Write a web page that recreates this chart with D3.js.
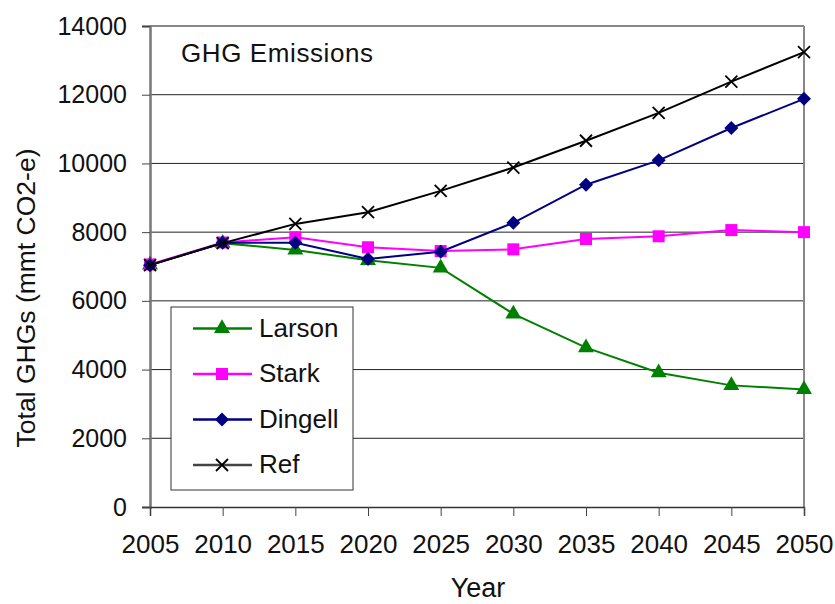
<!DOCTYPE html>
<html><head><meta charset="utf-8">
<script src="https://cdn.jsdelivr.net/npm/d3@7"></script>
<style>body{margin:0;background:#fff}svg{display:block}text{font-family:"Liberation Sans",Arial,sans-serif}</style>
</head><body><svg id="c" width="835" height="604"></svg>
<script>
const years = [2005,2010,2015,2020,2025,2030,2035,2040,2045,2050];
const larson  = [7050,7680,7480,7180,6960,5620,4640,3910,3540,3420];
const stark   = [7060,7700,7850,7560,7450,7500,7800,7880,8060,8000];
const dingell = [7040,7690,7690,7220,7430,8270,9380,10090,11030,11880];
const ref     = [7040,7680,8240,8580,9200,9880,10660,11470,12380,13240];
const yTicks = [0,2000,4000,6000,8000,10000,12000,14000];
const seriesNames = ["Larson","Stark","Dingell","Ref"];
const seriesColors = ["#008000","#FF00FF","#000080","#000000"];
const seriesShapes = ["triangle","square","diamond","x"];
const seriesValues = [larson,stark,dingell,ref];

const svg = d3.select("#c");
const L=150, R=804, T=26, B=507;
const x = d3.scaleLinear().domain([2005,2050]).range([L,R]);
const y = d3.scaleLinear().domain([0,14000]).range([B,T]);
const FF = "Liberation Sans, Arial, sans-serif";

// gridlines
svg.append("g").selectAll("line").data(yTicks.filter(d=>d>0 && d<14000)).join("line")
  .attr("x1",L).attr("x2",R).attr("y1",d=>y(d)).attr("y2",d=>y(d))
  .attr("stroke","#222").attr("stroke-width",1);
// plot border top/right
svg.append("line").attr("x1",L).attr("x2",R).attr("y1",y(14000)).attr("y2",y(14000)).attr("stroke","#888").attr("stroke-width",2);
svg.append("line").attr("x1",R).attr("x2",R).attr("y1",T).attr("y2",B).attr("stroke","#888").attr("stroke-width",2);

// y axis
const yAxis = d3.axisLeft(y).tickValues(yTicks).tickSize(8).tickPadding(15).tickFormat(d3.format("d"));
const gy = svg.append("g").attr("transform",`translate(${L},0)`).call(yAxis);
gy.select(".domain").attr("stroke","#777").attr("stroke-width",2.5);
gy.selectAll(".tick line").attr("stroke","#444");
gy.selectAll("text").attr("font-size",25).attr("fill","#111").attr("font-family",FF);

// x axis
const xAxis = d3.axisBottom(x).tickValues(years).tickSize(9).tickPadding(19).tickFormat(d3.format("d"));
const gx = svg.append("g").attr("transform",`translate(0,${B})`).call(xAxis);
gx.select(".domain").attr("stroke","#333").attr("stroke-width",1.5);
gx.selectAll(".tick line").attr("stroke","#444");
gx.selectAll("text").attr("font-size",26).attr("fill","#111").attr("font-family",FF);

// titles
svg.append("text").attr("x",478).attr("y",597).attr("text-anchor","middle").attr("font-size",27).attr("fill","#111").text("Year");
svg.append("text").attr("transform","translate(35,298) rotate(-90)").attr("text-anchor","middle").attr("font-size",26.5).attr("fill","#111").text("Total GHGs (mmt CO2-e)");
svg.append("text").attr("x",181).attr("y",62).attr("font-size",26).attr("letter-spacing",0.6).attr("fill","#111").text("GHG Emissions");

function marker(g, shape, color){
  if(shape==="triangle") g.append("path").attr("d",d3.symbol(d3.symbolTriangle,110)()).attr("fill",color);
  else if(shape==="square") g.append("rect").attr("x",-6).attr("y",-6).attr("width",12).attr("height",12).attr("fill",color);
  else if(shape==="diamond") g.append("path").attr("d","M0,-7L7,0L0,7L-7,0Z").attr("fill",color);
  else g.append("path").attr("d","M-6,-6L6,6M-6,6L6,-6").attr("stroke",color).attr("stroke-width",1.8).attr("fill","none");
}

const line = d3.line().x((d,i)=>x(years[i])).y(d=>y(d));
[0,1,2,3].forEach(k=>{
  const g = svg.append("g");
  g.append("path").datum(seriesValues[k]).attr("d",line).attr("fill","none").attr("stroke",seriesColors[k]).attr("stroke-width",2);
  g.selectAll("g.m").data(seriesValues[k]).join("g").attr("class","m")
    .attr("transform",(d,i)=>`translate(${x(years[i])},${y(d)})`)
    .each(function(){ marker(d3.select(this), seriesShapes[k], seriesColors[k]); });
});

// legend
const lg = svg.append("g");
lg.append("rect").attr("x",171).attr("y",307).attr("width",182).attr("height",183).attr("fill","#fff").attr("stroke","#333").attr("stroke-width",1);
seriesNames.forEach((n,k)=>{
  const yy = 328.5 + k*45.5;
  const c = k===3 ? "#444" : seriesColors[k];
  lg.append("line").attr("x1",193).attr("x2",252).attr("y1",yy).attr("y2",yy).attr("stroke",c).attr("stroke-width",2.5);
  const m = lg.append("g").attr("transform",`translate(222,${yy})`);
  marker(m, seriesShapes[k], seriesColors[k]);
  lg.append("text").attr("x",259).attr("y",yy+8).attr("font-size",26).attr("fill","#111").text(n);
});
</script></body></html>
